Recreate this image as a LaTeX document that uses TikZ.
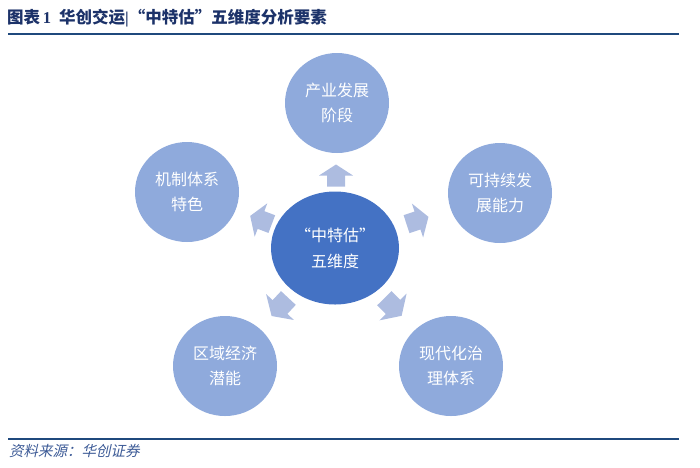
\documentclass[tikz,border=0pt]{standalone}
\usepackage{fontspec}
\setmainfont{Liberation Serif}
\newfontfamily\cjk{Noto Sans CJK SC}
\newfontfamily\cjkit[FakeSlant=0.22]{Noto Sans CJK SC}
\usetikzlibrary{calc,shapes.geometric}
\definecolor{titleblue}{RGB}{28,50,105}
\definecolor{rulecol}{RGB}{31,73,125}
\definecolor{footcol}{RGB}{60,90,150}
\definecolor{centerfill}{RGB}{68,114,196}
\definecolor{outerfill}{RGB}{143,170,220}
\definecolor{arrowfill}{RGB}{173,188,224}
\tikzset{
  hub/.style={ellipse, fill=centerfill, draw=none, minimum width=128pt, minimum height=113pt, inner sep=0pt, text=white, align=center, font=\cjk\fontsize{16}{26}\selectfont},
  leaf/.style={ellipse, fill=outerfill, draw=none, minimum width=104pt, minimum height=100pt, inner sep=0pt, text=white, align=center, font=\cjk\fontsize{16}{25}\selectfont},
  blockarrow/.style={fill=arrowfill, draw=none}
}
\newcommand\radarrow[4]{%
  \fill[blockarrow, shift={($(#1)!0.5!(#2)$)}, rotate=#3, scale=#4]
    (-11,-9) -- (0,-9) -- (0,-17) -- (11,0) -- (0,17) -- (0,9) -- (-11,9) -- cycle;}
\begin{document}
\begin{tikzpicture}[x=1pt,y=-1pt]
\useasboundingbox (0,0) rectangle (700,467);
% title
\node[anchor=west, inner sep=0pt, text=titleblue, font=\fontsize{16.5}{18}\selectfont\bfseries] (title) at (7,18)
  {{\cjk\bfseries 图表}\,1\hspace{8pt}{\cjk\bfseries 华创交运}|{\cjk\bfseries “中特估”五维度分析要素}};
\coordinate (r1a) at (8,34);
\coordinate (r1b) at (679,34);
\draw[rulecol, line width=2.2pt] (r1a) -- (r1b);
% nodes
\node[hub] (c) at (335,248) {“中特估”\\五维度};
\node[leaf] (t1) at (337,103) {产业发展\\阶段};
\node[leaf] (t2) at (500,193) {可持续发\\展能力};
\node[leaf] (t3) at (451,366) {现代化治\\理体系};
\node[leaf] (t4) at (225,366) {区域经济\\潜能};
\node[leaf] (t5) at (187,192) {机制体系\\特色};
% arrows
\radarrow{c}{t1}{90}{1}
\radarrow{c}{t2}{18.4}{1.05}
\radarrow{c}{t3}{-45.5}{1.12}
\radarrow{c}{t4}{227}{1.12}
\radarrow{c}{t5}{159.3}{1.05}
% footer
\coordinate (r2a) at (8,439);
\coordinate (r2b) at (679,439);
\draw[rulecol, line width=2.2pt] (r2a) -- (r2b);
\node[anchor=west, inner sep=0pt, text=footcol, font=\cjkit\fontsize{14.5}{16}\selectfont] (src) at (9,451) {资料来源：华创证券};
\end{tikzpicture}
\end{document}
